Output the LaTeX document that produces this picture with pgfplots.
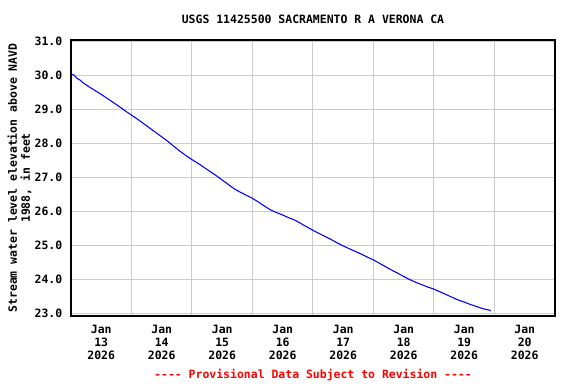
\documentclass[border=0pt]{standalone}
\usepackage{fontspec}
\setmainfont{DejaVu Sans Mono}
\usepackage{pgfplots}
\pgfplotsset{compat=1.18}
\definecolor{gridgray}{RGB}{204,204,204}
\definecolor{lineblue}{RGB}{0,0,255}
\definecolor{provred}{RGB}{255,0,0}
\newcommand{\cf}{\fontsize{8.6}{9.75}\selectfont\bfseries}
\begin{document}
\begin{tikzpicture}
\path[use as bounding box] (-53.25pt,-51pt) rectangle (378.75pt,237pt);
\begin{axis}[
  at={(0,0)}, anchor=south west,
  scale only axis, width=363pt, height=207pt,
  xmin=0, xmax=8, ymin=22.92, ymax=31.04,
  xtick={0.5,1.5,2.5,3.5,4.5,5.5,6.5,7.5},
  xticklabels={{Jan\\13\\2026},{Jan\\14\\2026},{Jan\\15\\2026},{Jan\\16\\2026},{Jan\\17\\2026},{Jan\\18\\2026},{Jan\\19\\2026},{Jan\\20\\2026}},
  xticklabel style={align=center, font=\cf, yshift=-3pt},
  minor xtick={1,2,3,4,5,6,7},
  xminorgrids=true, xmajorgrids=false,
  ytick={23,24,25,26,27,28,29,30,31},
  ymajorgrids=true,
  yticklabel style={font=\cf, xshift=-3pt},
  /pgf/number format/assume math mode=true,
  yticklabel={\pgfmathprintnumber[fixed,fixed zerofill,precision=1]{\tick}},
  major tick length=0pt, minor tick length=0pt,
  major grid style={gridgray, line width=0.75pt},
  minor grid style={gridgray, line width=0.75pt},
  axis line style={black, line width=0.9pt},
  ylabel={Stream water level elevation above NAVD\\1988, in feet},
  ylabel style={align=center, font=\cf, at={([xshift=-38.6pt]axis description cs:0,0.5)}, anchor=center},
  title={USGS 11425500 SACRAMENTO R A VERONA CA},
  title style={font=\cf, at={([yshift=9.75pt]axis description cs:0.5,1)}, anchor=center},
]
\addplot[lineblue, line width=0.8pt] coordinates {
(0.00,30.04) (0.05,30.01) (0.10,29.91) (0.15,29.86) (0.20,29.78) (0.30,29.66)
(0.40,29.55) (0.50,29.44) (0.60,29.32) (0.70,29.20) (0.80,29.08) (0.90,28.95)
(1.00,28.83) (1.10,28.71) (1.20,28.58) (1.30,28.45) (1.40,28.32) (1.50,28.19)
(1.60,28.06) (1.70,27.91) (1.80,27.77) (1.90,27.64) (2.00,27.52) (2.10,27.41)
(2.20,27.29) (2.30,27.17) (2.40,27.05) (2.50,26.92) (2.60,26.79) (2.70,26.66)
(2.80,26.56) (2.90,26.47) (3.00,26.38) (3.10,26.27) (3.20,26.15) (3.30,26.04)
(3.40,25.96) (3.50,25.89) (3.60,25.81) (3.70,25.74) (3.80,25.64) (3.90,25.54)
(4.00,25.44) (4.10,25.35) (4.20,25.26) (4.30,25.17) (4.40,25.07) (4.50,24.98)
(4.60,24.90) (4.70,24.82) (4.80,24.74) (4.90,24.65) (5.00,24.57) (5.10,24.47)
(5.20,24.37) (5.30,24.27) (5.40,24.18) (5.50,24.08) (5.60,23.99) (5.70,23.91)
(5.80,23.84) (5.90,23.77) (6.00,23.71) (6.10,23.63) (6.20,23.55) (6.30,23.47)
(6.40,23.39) (6.50,23.33) (6.60,23.26) (6.70,23.20) (6.80,23.14) (6.94,23.08)
};
\end{axis}
\node[font=\cf, text=provred, anchor=center, yshift=-44.25pt] at (current axis.south) {-{}-{}-{}- Provisional Data Subject to Revision -{}-{}-{}-};
\end{tikzpicture}
\end{document}
